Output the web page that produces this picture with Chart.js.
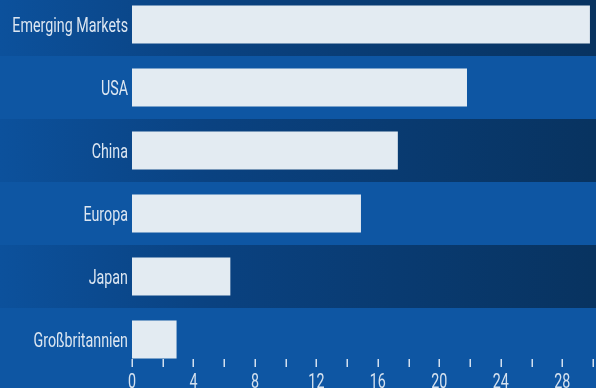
<!DOCTYPE html>
<html>
<head>
<meta charset="utf-8">
<script src="https://cdn.jsdelivr.net/npm/chart.js@4"></script>
<style>
  html, body { margin: 0; padding: 0; overflow: hidden; background: #0e56a3; }
  #wrap { position: absolute; left: 0; top: -7px; width: 596px; height: 420px; }
</style>
</head>
<body>
<div id="wrap"><canvas id="chart"></canvas></div>
<script>
// Daten
const regions = ['Emerging Markets', 'USA', 'China', 'Europa', 'Japan', 'Großbritannien'];
const values = [29.8, 21.8, 17.3, 14.9, 6.4, 2.9];
const xMin = 0;
const xMax = 30;
const xStep = 2;      // kleine Striche
const labelStep = 4;  // beschriftete Werte

const fontFamily = 'Roboto, "DejaVu Sans", sans-serif';
const fontSize = 21;
const squeeze = 0.68; // schmale Schrift nachbilden

// abwechselnde Zeilen (dunkel mit Verlauf)
const bandPlugin = {
  id: 'bands',
  beforeDraw(chart) {
    const { ctx, scales: { y }, width } = chart;
    const half = (y.getPixelForTick(1) - y.getPixelForTick(0)) / 2;
    const grad = ctx.createLinearGradient(0, 0, width, 0);
    grad.addColorStop(0, '#0c519c');
    grad.addColorStop(0.35, '#0a4281');
    grad.addColorStop(1, '#083360');
    ctx.save();
    ctx.fillStyle = grad;
    regions.forEach((r, i) => {
      if (i % 2 === 0) {
        const c = y.getPixelForTick(i);
        ctx.fillRect(0, c - half, width, half * 2);
      }
    });
    ctx.restore();
  }
};

// kurze Striche der x-Achse innerhalb der letzten Zeile + Beschriftungen
const axisPlugin = {
  id: 'axisText',
  afterDatasetsDraw(chart) {
    const { ctx, scales: { x, y }, chartArea } = chart;
    ctx.save();
    ctx.strokeStyle = '#d3e0ef';
    ctx.lineWidth = 1.5;
    x.ticks.forEach(t => {
      const px = Math.round(x.getPixelForValue(t.value)) + 0.25;
      ctx.beginPath();
      ctx.moveTo(px, chartArea.bottom - 12);
      ctx.lineTo(px, chartArea.bottom - 4);
      ctx.stroke();
    });

    ctx.font = fontSize + 'px ' + fontFamily;
    ctx.textBaseline = 'alphabetic';

    // Kategorien
    ctx.fillStyle = '#dce6f1';
    ctx.textAlign = 'right';
    regions.forEach((r, i) => {
      ctx.save();
      ctx.translate(y.right - 4, y.getPixelForTick(i) + fontSize * 0.355);
      ctx.scale(squeeze, 1);
      ctx.fillText(r, 0, 0);
      ctx.restore();
    });

    // Werte
    ctx.fillStyle = '#d6e2ef';
    ctx.textAlign = 'center';
    x.ticks.forEach(t => {
      if (t.value % labelStep !== 0) return;
      ctx.save();
      ctx.translate(x.getPixelForValue(t.value), chartArea.bottom + 17);
      ctx.scale(squeeze, 1);
      ctx.fillText(String(t.value), 0, 0);
      ctx.restore();
    });
    ctx.restore();
  }
};

new Chart(document.getElementById('chart').getContext('2d'), {
  type: 'bar',
  data: {
    labels: regions,
    datasets: [{
      data: values,
      backgroundColor: '#e3ebf2',
      borderWidth: 0,
      barPercentage: 0.6,
      categoryPercentage: 1,
    }],
  },
  options: {
    indexAxis: 'y',
    responsive: true,
    maintainAspectRatio: false,
    animation: false,
    layout: { padding: { top: 0, right: 3, bottom: 0, left: 0 } },
    plugins: {
      legend: { display: false },
      tooltip: { enabled: false },
    },
    scales: {
      x: {
        min: xMin,
        max: xMax,
        grid: { display: false, drawTicks: false },
        border: { display: false },
        afterFit: s => { s.height = 42; s.paddingLeft = 0; s.paddingRight = 0; },
        ticks: { stepSize: xStep, autoSkip: false, display: false },
      },
      y: {
        grid: { display: false, drawTicks: false },
        border: { display: false },
        afterFit: s => { s.width = 132; s.paddingTop = 0; s.paddingBottom = 0; },
        ticks: { display: false },
      },
    },
  },
  plugins: [bandPlugin, axisPlugin],
});
</script>
</body>
</html>
